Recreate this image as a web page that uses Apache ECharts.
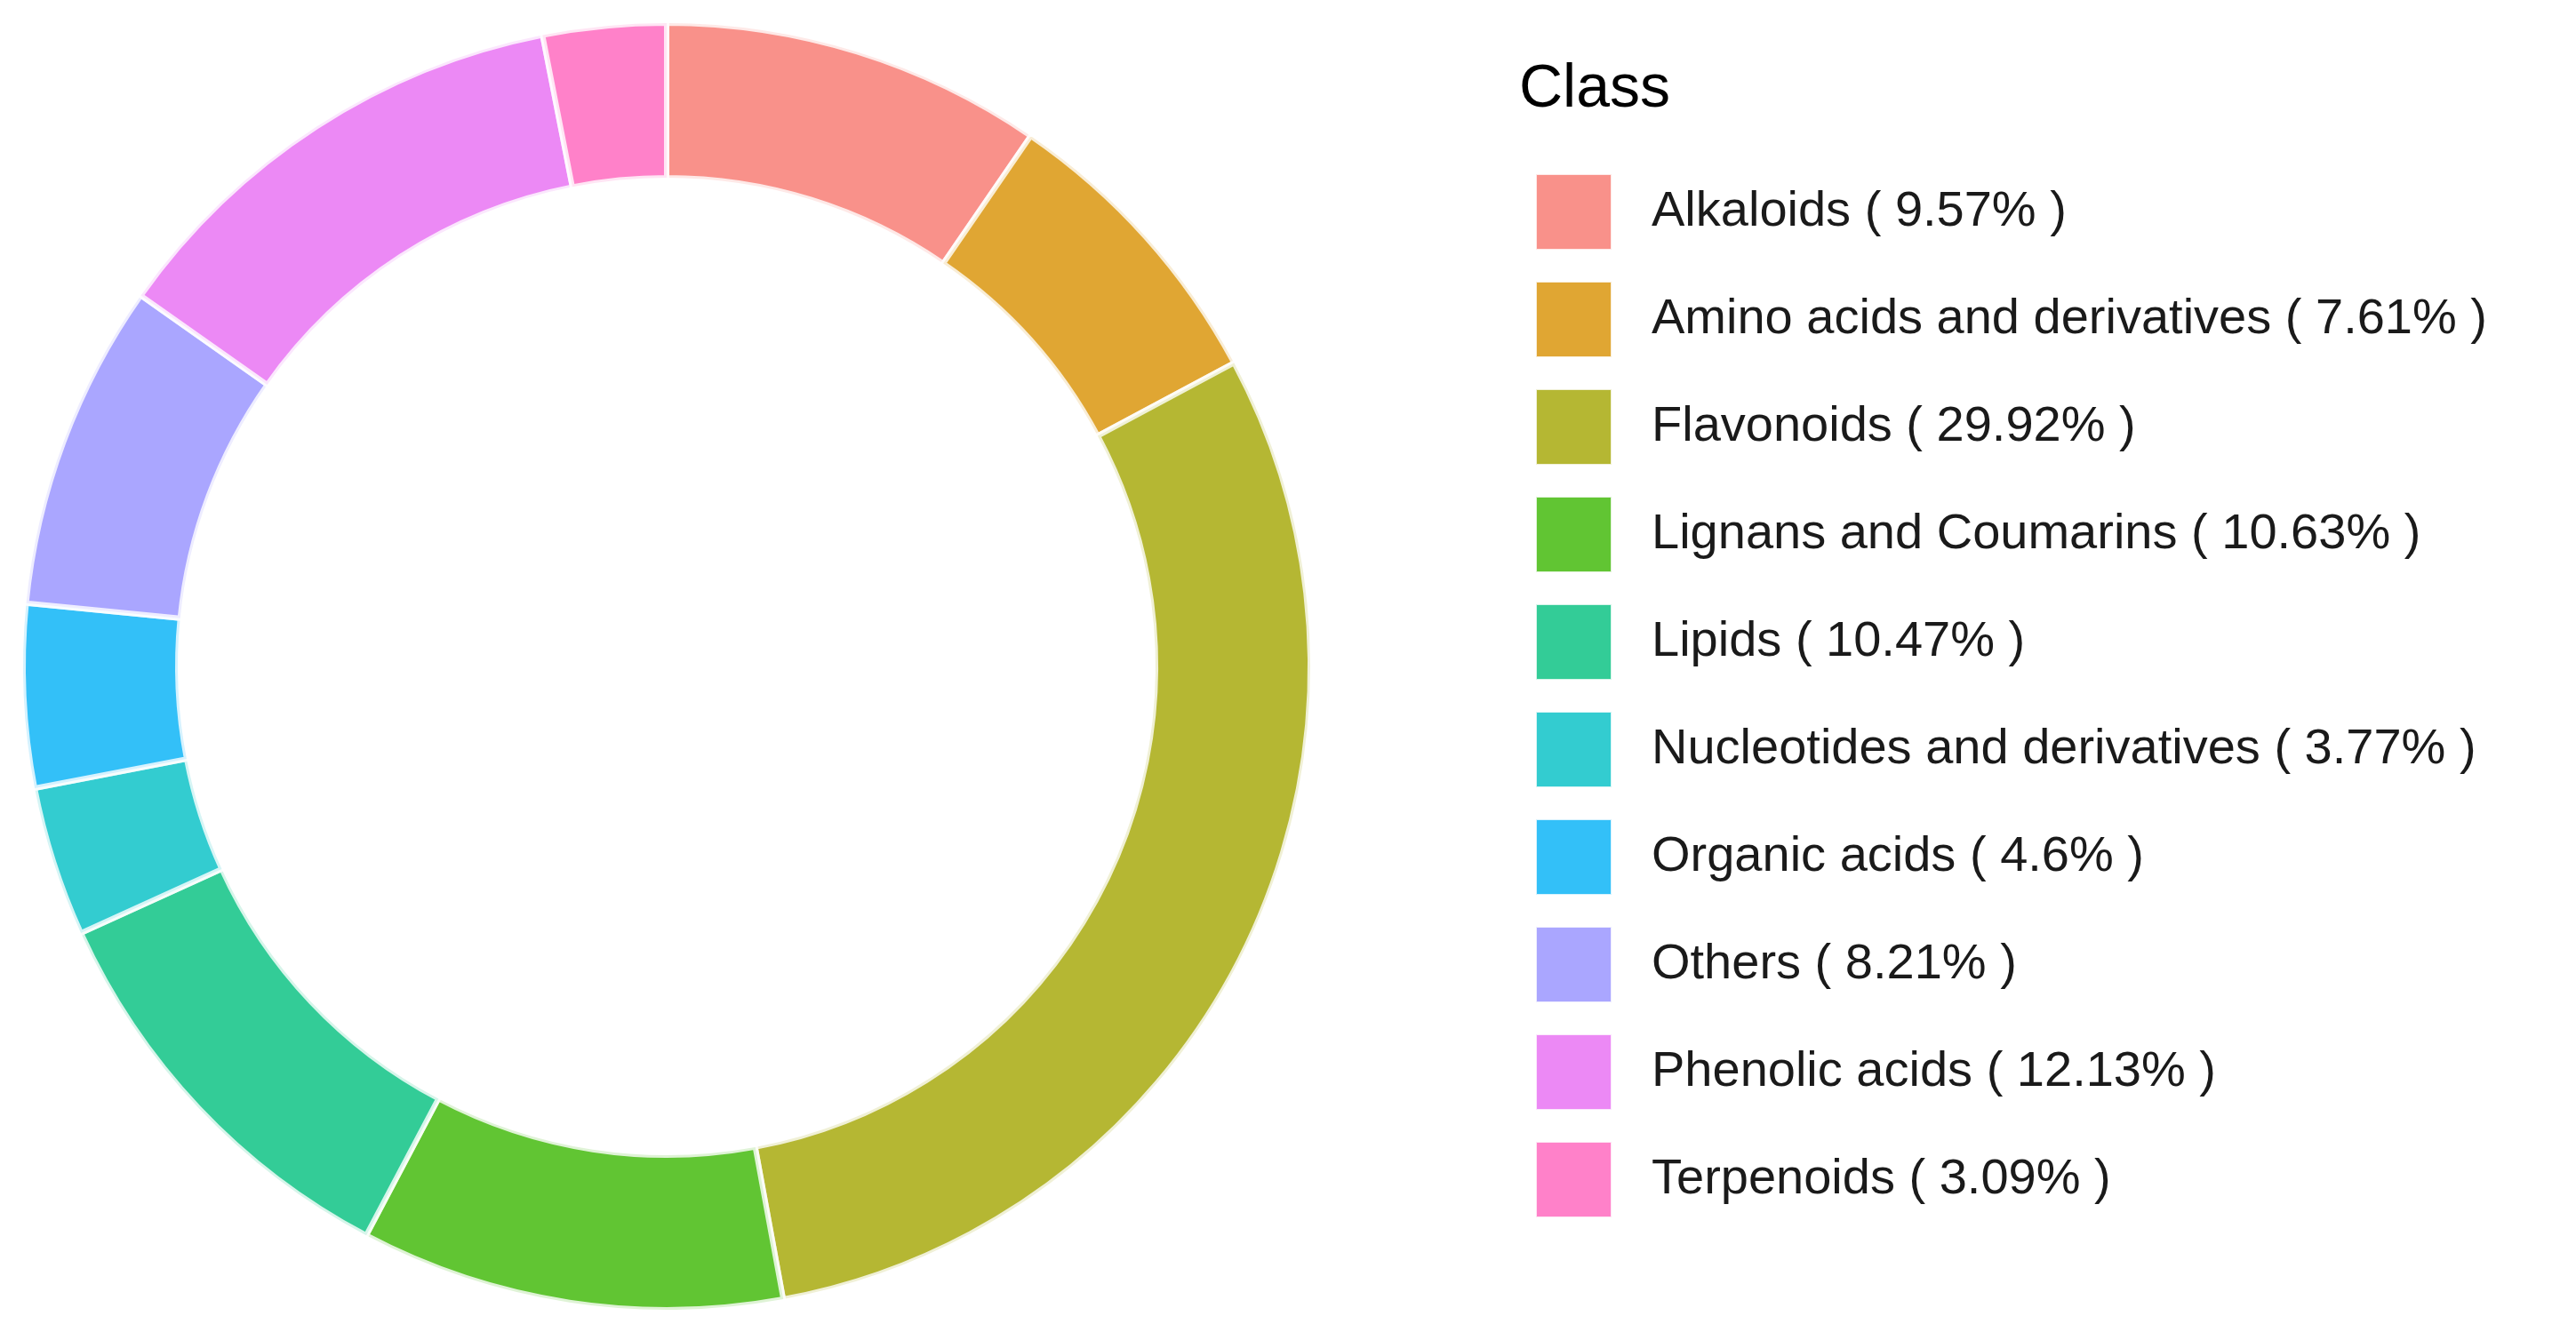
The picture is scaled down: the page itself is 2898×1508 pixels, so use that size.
<!DOCTYPE html>
<html lang="en">
<head>
<meta charset="UTF-8">
<title>Class</title>
<style>
  html, body { margin: 0; padding: 0; background: #fff; }
  #chart { width: 2898px; height: 1508px; }
</style>
</head>
<body>
<div id="chart"></div>
<script src="https://cdn.jsdelivr.net/npm/echarts@6/dist/echarts.min.js"></script>
<script>
var categories = ['Alkaloids', 'Amino acids and derivatives', 'Flavonoids', 'Lignans and Coumarins',
  'Lipids', 'Nucleotides and derivatives', 'Organic acids', 'Others', 'Phenolic acids', 'Terpenoids'];
var percents = [9.57, 7.61, 29.92, 10.63, 10.47, 3.77, 4.6, 8.21, 12.13, 3.09];
var colors = ['#F8766D', '#D89000', '#A3A500', '#39B600', '#00BF7D', '#00BFC4', '#00B0F6', '#9590FF', '#E76BF3', '#FF62BC'];

var chart = echarts.init(document.getElementById('chart'));

var pieData = categories.map(function (c, i) {
  return { name: c, value: percents[i] };
});

chart.setOption({
  animation: false,
  color: colors,
  title: {
    text: 'Class',
    left: 1704, top: 62,
    textStyle: { fontFamily: 'Liberation Sans, Arial', fontSize: 68, fontWeight: 'normal', color: '#000' }
  },
  legend: {
    orient: 'vertical',
    left: 1722, top: 190,
    itemWidth: 85, itemHeight: 85, itemGap: 34,
    icon: 'rect',
    data: categories,
    formatter: function (name) {
      return name + ' ( ' + percents[categories.indexOf(name)] + '% )';
    },
    textStyle: { fontFamily: 'Liberation Sans, Arial', fontSize: 56, color: '#1a1a1a', padding: [0, 0, 0, 40] },
    itemStyle: { opacity: 0.8 }
  },
  series: [{
    type: 'pie',
    center: [750, 750],
    radius: [550, 724],
    startAngle: 90,
    clockwise: true,
    label: { show: false },
    labelLine: { show: false },
    itemStyle: { opacity: 0.8, borderColor: '#fff', borderWidth: 6 },
    data: pieData
  }]
});
</script>
</body>
</html>
